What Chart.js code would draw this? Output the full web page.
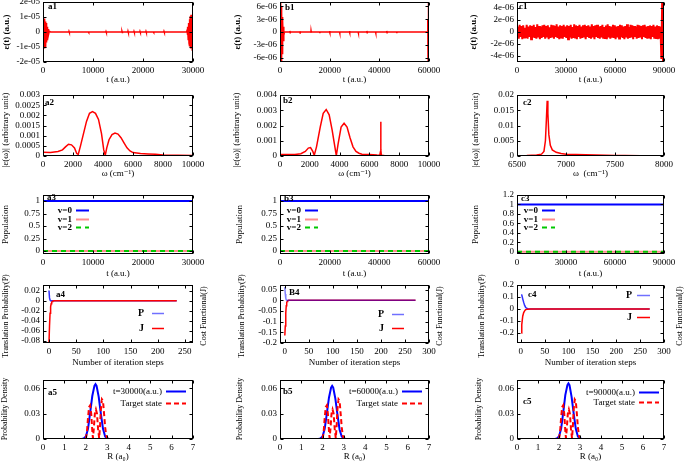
<!DOCTYPE html>
<html><head><meta charset="utf-8">
<script src="https://cdn.jsdelivr.net/npm/chart.js@4.4.0/dist/chart.umd.min.js"></script>
<style>
html,body{margin:0;padding:0;background:#fff;width:685px;height:470px;overflow:hidden;position:relative}
canvas{position:absolute}
</style>
</head><body>
<script>
// ---------------- DATA ----------------
// Row 1: control field eps(t)
const a1Time  = [0,120,200,260,320,380,440,500,560,620,680,740,800,870,940,1020,1120,1250,1500,
  5170,5200,5260,5290, 9070,9100,9160,9190, 12570,12600,12660,12690, 15770,15800,15860,15890, 16970,17000,17060,17090,
  18170,18200,18260,18290, 19370,19400,19460,19490, 20570,20600,20660,20690, 22070,22100,22160,22190, 24170,24200,24260,24290,
  28700,28800,28880,28960,29040,29120,29200,29280,29360,29440,29520,29600,29680,29760,29840,29920,30000];
const a1Field = [0,0.3e-5,-0.6e-5,0.9e-5,-1.1e-5,0.85e-5,-1.0e-5,0.7e-5,-0.9e-5,0.6e-5,-0.7e-5,0.5e-5,-0.5e-5,0.35e-5,-0.3e-5,0.2e-5,-0.15e-5,0.05e-5,0,
  0,0.04e-5,-0.03e-5,0, 0,0.04e-5,-0.04e-5,0, 0,0.03e-5,-0.04e-5,0, 0,0.04e-5,-0.03e-5,0, 0,0.05e-5,-0.04e-5,0,
  0,0.04e-5,-0.04e-5,0, 0,0.04e-5,-0.03e-5,0, 0,0.04e-5,-0.04e-5,0, 0,0.03e-5,-0.04e-5,0, 0,0.04e-5,-0.03e-5,0,
  0,0.1e-5,-0.2e-5,0.35e-5,-0.5e-5,0.6e-5,-0.75e-5,0.85e-5,-0.95e-5,1.05e-5,-1.1e-5,1.15e-5,-1.05e-5,1.1e-5,-1.2e-5,1.0e-5,-0.6e-5];

const b1Time  = [0,150,250,350,450,550,650,750,850,950,1050,1150,1300,1450,1600,1800,
  3970,4000,4100,4130, 7970,8000,8100,8130, 12470,12500,12600,12630, 15970,16000,16100,16130, 19970,20000,20100,20130,
  23970,24000,24100,24130, 27970,28000,28100,28130, 31470,31500,31600,31630, 34970,35000,35100,35130, 38470,38500,38600,38630,
  42970,43000,43100,43130, 46970,47000,47100,47130,
  59400,59500,59600,59700,59800,59900,60000];
const b1Field = [0,5e-6,-7.5e-6,8e-6,-7.5e-6,6e-6,-6e-6,4.5e-6,-5e-6,3.5e-6,-3e-6,2.5e-6,-2e-6,1.2e-6,-0.8e-6,0,
  0,0.25e-6,-0.2e-6,0, 0,0.2e-6,-0.25e-6,0, 0,0.25e-6,-0.2e-6,0, 0,0.2e-6,-0.25e-6,0, 0,0.25e-6,-0.2e-6,0,
  0,0.2e-6,-0.25e-6,0, 0,0.25e-6,-0.2e-6,0, 0,0.2e-6,-0.25e-6,0, 0,0.25e-6,-0.2e-6,0, 0,0.2e-6,-0.25e-6,0,
  0,0.25e-6,-0.2e-6,0, 0,0.2e-6,-0.25e-6,0,
  0,3e-6,-6e-6,8e-6,-8e-6,7e-6,-5e-6];

// c1: densely sampled field, values in units of 1e-7 a.u., equally spaced over 0..90000 a.u.
const c1Duration = 90000;
const c1FieldE7 = [0,9,-11,12,-8,10,-12,11,-9,7,-10,12,-11,9,-8,11,-12,10,-9,12,
 -10,8,-11,13,-9,10,-12,9,-10,11,-8,12,-11,10,-9,11,-12,8,-10,12,
 -9,11,-11,10,-8,13,-10,9,-12,11,-9,10,-11,12,-8,9,-10,11,-12,10,
 -9,12,-11,8,-10,13,-9,11,-12,10,-8,12,-11,9,-10,11,-9,12,-12,10,
 -8,11,-10,9,-11,13,-9,10,-12,11,-8,12,-10,9,-11,10,-9,12,-11,8,
 -10,11,-12,13,-9,10,-11,9,-8,12,-10,11,-12,9,-9,10,-11,12,-8,11,
 -10,9,-12,10,-9,13,-11,8,-10,12,-9,11,-12,10,-8,9,-11,12,-10,11,
 -9,10,-12,11,-8,12,-10,9,-11,10,-9,11,-12,10,-8,12,-11,9,-10,11,
 -12,10,-11,9,-45,60,-60,55];

// Row 2: spectra |eps(omega)|
const a2Omega = [0,500,1000,1300,1500,1700,1900,2100,2250,2350,2500,2700,2900,3100,3300,3500,3700,3900,4050,4150,4250,4400,4600,4800,5000,5200,5400,5600,5800,6000,6500,7000,7500,8000,9000,10000];
const a2Amp   = [0.00018,0.00017,0.00022,0.0003,0.00045,0.00058,0.00055,0.0004,0.00012,0.00008,0.0005,0.0011,0.0017,0.0021,0.00218,0.0021,0.0018,0.0011,0.0003,0.00003,0.0004,0.0008,0.00105,0.00113,0.00108,0.0009,0.00065,0.0004,0.00025,0.00017,0.00012,0.0001,0.00008,0.00005,0.00004,0.00003];
const b2Omega = [0,500,1000,1400,1700,1900,2050,2200,2300,2450,2700,2900,3100,3300,3500,3650,3780,3900,4100,4300,4500,4700,4900,5100,5300,5500,6000,6500,6700,6745,6760,6775,6800,6850,7000,8000,9000,10000];
const b2Amp   = [0.0001,0.0001,0.0001,0.00015,0.0003,0.00052,0.00055,0.0003,0.00005,0.0006,0.0019,0.0028,0.00305,0.0027,0.0017,0.0008,0.00002,0.0008,0.0019,0.00215,0.0019,0.0012,0.0006,0.0003,0.00018,0.00012,0.0001,0.00006,0.00005,0.0003,0.00225,0.0004,0.00008,0.00004,0.00003,0.00002,0.00002,0.00002];
const c2Omega = [6500,6600,6700,6750,6775,6790,6800,6808,6815,6825,6840,6860,6900,6950,7000,7100,7200,7300,7400,7500,7600,7760];
const c2Amp   = [0.0001,0.00015,0.0003,0.0006,0.0015,0.005,0.012,0.0181,0.014,0.007,0.0035,0.002,0.0012,0.0008,0.0006,0.0005,0.0004,0.0003,0.00025,0.0002,0.00015,0.0001];

// Row 3: populations
const a3Time = [0,30000], b3Time = [0,60000], c3Time = [0,90000];
const popV0 = [1,1], popV1 = [0,0], popV2 = [0,0];

// Row 4: convergence (P and J vs iteration)
const a4Step = [0,1,2,3,4,5,6,7,8,10,235];
const a4P    = [0.021,0.006,0.0015,0.0005,0.0002,0.0001,0,0,0,0,0];
const a4J    = [-0.085,-0.05,-0.025,-0.012,-0.006,-0.003,-0.0015,-0.0008,-0.0003,0,0];
const b4Step = [0,1,2,3,4,5,6,8,10,272];
const b4P    = [0.062,0.03,0.01,0.003,0.001,0,0,0,0,0];
const b4J    = [-0.165,-0.12,-0.06,-0.025,-0.01,-0.005,-0.002,0,0,0];
const c4Step = [1,2,4,6,8,10,12,15,20,270];
const c4P    = [0.12,0.117,0.085,0.055,0.03,0.015,0.007,0.002,0,0];
const c4J    = [-0.2,-0.13,-0.06,-0.03,-0.015,-0.006,-0.003,-0.001,0,0];

// Row 5: probability densities
const finalR  = [0.5,1.8,1.9,2.0,2.1,2.2,2.3,2.4,2.45,2.5,2.6,2.7,2.8,2.9,3.0,3.1,6.5];
const a5Final = [0,0,0.0005,0.003,0.012,0.031,0.051,0.063,0.065,0.063,0.05,0.03,0.012,0.003,0.0005,0,0];
const b5Final = [0,0,0.0005,0.003,0.012,0.03,0.049,0.061,0.063,0.061,0.048,0.029,0.011,0.003,0.0005,0,0];
const c5Final = [0,0,0.0005,0.003,0.012,0.031,0.052,0.064,0.066,0.064,0.05,0.03,0.012,0.003,0.0005,0,0];
const targetR = [2.0,2.05,2.1,2.15,2.2,2.25,2.3,2.33,2.37,2.42,2.47,2.52,2.57,2.62,2.66,2.7,2.75,2.8,2.85,2.9,2.95,3.0,3.05];
const targetD = [0,0.008,0.025,0.038,0.04,0.03,0.01,0.001,0.012,0.03,0.035,0.03,0.012,0.001,0.015,0.035,0.047,0.045,0.03,0.014,0.004,0.001,0];

// Tick values and labels
const t30Ticks = [0,10000,20000,30000], t30Labels = ['0','10000','20000','30000'];
const t60Ticks = [0,20000,40000,60000], t60Labels = ['0','20000','40000','60000'];
const t90Ticks = [0,30000,60000,90000], t90Labels = ['0','30000','60000','90000'];
const a1YTicks = [-2e-5,-1e-5,0,1e-5,2e-5], a1YLabels = ['-2e-05','-1e-05','0','1e-05','2e-05'];
const b1YTicks = [-6e-6,-3e-6,0,3e-6,6e-6], b1YLabels = ['-6e-06','-3e-06','0','3e-06','6e-06'];
const c1YTicks = [-4e-6,-2e-6,0,2e-6,4e-6], c1YLabels = ['-4e-06','-2e-06','0','2e-06','4e-06'];
const wTicks = [0,2000,4000,6000,8000,10000], wLabels = ['0','2000','4000','6000','8000','10000'];
const c2XTicks = [6500,7000,7500,8000], c2XLabels = ['6500','7000','7500','8000'];
const a2YTicks = [0,0.0005,0.001,0.0015,0.002,0.0025,0.003], a2YLabels = ['0','0.0005','0.001','0.0015','0.002','0.0025','0.003'];
const b2YTicks = [0,0.001,0.002,0.003,0.004], b2YLabels = ['0','0.001','0.002','0.003','0.004'];
const c2YTicks = [0,0.005,0.01,0.015,0.02], c2YLabels = ['0','0.005','0.01','0.015','0.02'];
const popTicks = [0,0.25,0.5,0.75,1], popLabels = ['0','0.25','0.5','0.75','1'];
const c3Ticks = [0,0.2,0.4,0.6,0.8,1,1.2], c3Labels = ['0','0.2','0.4','0.6','0.8','1','1.2'];
const a4XTicks = [0,50,100,150,200,250], a4XLabels = ['0','50','100','150','200','250'];
const s300Ticks = [0,50,100,150,200,250,300], s300Labels = ['0','50','100','150','200','250','300'];
const a4YTicks = [-0.08,-0.06,-0.04,-0.02,0,0.02], a4YLabels = ['-0.08','-0.06','-0.04','-0.02','0','0.02'];
const b4YTicks = [-0.2,-0.15,-0.1,-0.05,0,0.05], b4YLabels = ['-0.2','-0.15','-0.1','-0.05','0','0.05'];
const c4YTicks = [-0.2,-0.1,0,0.1,0.2], c4YLabels = ['-0.2','-0.1','0','0.1','0.2'];
const rTicks = [0,1,2,3,4,5,6,7], rLabels = ['0','1','2','3','4','5','6','7'];
const dTicks = [0,0.03,0.06], dLabels = ['0','0.03','0.06'];

// ---------------- RENDERING ----------------
const SERIF = '"Liberation Serif", "DejaVu Serif", serif';
Chart.defaults.font.family = SERIF;
Chart.defaults.font.size = 9;
Chart.defaults.color = '#000';

const COL = {a:{l:43,r:193}, b:{l:280,r:429}, c:{l:517,r:664}};
const ROW = [{t:2,b:62,xt:80},{t:95,b:156,xt:174},{t:195,b:254,xt:274},{t:285,b:343,xt:363},{t:380,b:439,xt:457}];
const PAD_T = 14, PAD_B = 12, PAD_R = 22;

const gnuFrame = {
  id:'gnuFrame',
  afterDraw(chart, args, o) {
    const {ctx, chartArea:a, scales} = chart;
    ctx.save();
    ctx.strokeStyle = '#000'; ctx.lineWidth = 1; ctx.setLineDash([]);
    const L = Math.round(a.left)+0.5, R = Math.round(a.right)-0.5, T = Math.round(a.top)+0.5, B = Math.round(a.bottom)-0.5;
    ctx.strokeRect(L, T, R-L, B-T);
    const tl = 3;
    ctx.beginPath();
    scales.x.ticks.forEach(t => { const p = Math.round(scales.x.getPixelForValue(t.value))+0.5;
      ctx.moveTo(p,B); ctx.lineTo(p,B-tl); ctx.moveTo(p,T); ctx.lineTo(p,T+tl); });
    scales.y.ticks.forEach(t => { const p = Math.round(scales.y.getPixelForValue(t.value))+0.5;
      ctx.moveTo(L,p); ctx.lineTo(L+tl,p); ctx.moveTo(R,p); ctx.lineTo(R-tl,p); });
    ctx.stroke();
    ctx.fillStyle = '#000'; ctx.textBaseline = 'middle'; ctx.textAlign = 'center';
    (o.vTitles || []).forEach(vt => {
      ctx.save();
      ctx.font = vt.font;
      ctx.translate(vt.x, vt.y); ctx.rotate(-Math.PI/2);
      ctx.fillText(vt.text, 0, 0);
      ctx.restore();
    });
    ctx.textAlign = 'left';
    ctx.font = 'bold 9px ' + SERIF;
    ctx.fillText(o.label, a.left + o.labelAt[0], a.top + o.labelAt[1]);
    if (o.legend) {
      const lg = o.legend;
      lg.items.forEach((di, k) => {
        const ds = chart.data.datasets[di];
        const y = Math.round(a.top + lg.y + k*lg.dy) + 0.5;
        ctx.font = lg.font; ctx.fillStyle = '#000'; ctx.textAlign = 'right';
        ctx.fillText(ds.label, a.left + lg.x, y);
        ctx.strokeStyle = ds.legendColor || ds.borderColor; ctx.lineWidth = ds.borderWidth;
        ctx.setLineDash(ds.borderDash || []);
        ctx.beginPath(); ctx.moveTo(a.left+lg.x+lg.gap, y); ctx.lineTo(a.left+lg.x+lg.gap+lg.len, y); ctx.stroke();
        ctx.setLineDash([]);
      });
    }
    ctx.restore();
  }
};

function line(xs, ys, label, color, width, extra) {
  return Object.assign({label, data: xs.map((x,i)=>({x, y: ys[i]})), borderColor: color, backgroundColor: color,
    borderWidth: width, pointRadius: 0, tension: 0, fill: false}, extra || {});
}

function makePanel(p) {
  const LH = 9*1.2;
  const box = {l:COL[p.col].l, r:COL[p.col].r, t:ROW[p.row].t, b:ROW[p.row].b};
  const xTitleY = ROW[p.row].xt;
  const cl = Math.round(p.yTitleX - LH/2) - 2;
  const ct = box.t - PAD_T;
  const cr = p.rTitleX ? Math.round(p.rTitleX + LH/2) + 2 : box.r + PAD_R;
  const cb = Math.round(xTitleY + LH/2) + PAD_B;
  const w = cr - cl, h = cb - ct;
  const cv = document.createElement('canvas');
  cv.width = w; cv.height = h;
  cv.style.left = cl+'px'; cv.style.top = ct+'px'; cv.style.width = w+'px'; cv.style.height = h+'px';
  document.body.appendChild(cv);
  const axis = (ax, pos, fit, showTitle) => ({
    type:'linear', position:pos, min:ax.min, max:ax.max, bounds:'data',
    afterBuildTicks: s => { s.ticks = ax.ticks.map(v => ({value:v})); },
    afterFit: fit,
    ticks: {autoSkip:false, maxRotation:0, minRotation:0, padding:3, callback:(v,i) => ax.labels[i]},
    grid: {display:false, drawTicks:false},
    border: {display:false},
    title: {display:showTitle, text:ax.title, padding:0, font:{size:9, family:SERIF, lineHeight:1.2}}
  });
  const scales = {
    x: axis(p.x, 'bottom', s => { s.height = cb - PAD_B - box.b; }, true),
    y: axis(p.y, 'left', s => { s.width = box.l - cl; }, false)
  };
  const tsize = p.titleSize || 9;
  const vTitles = [{text:p.y.title, x:p.yTitleX - cl, y:(p.yTitleY || (box.t+box.b)/2) - ct,
                    font:(p.y.bold ? 'bold ' : '') + tsize + 'px ' + SERIF}];
  if (p.rTitleX) {
    scales.y2 = {type:'linear', position:'right', min:p.y.min, max:p.y.max, bounds:'data',
      afterFit: s => { s.width = cr - box.r; },
      ticks:{display:false}, grid:{display:false, drawTicks:false}, border:{display:false},
      title:{display:false}};
    vTitles.push({text:p.rTitle, x:p.rTitleX - cl, y:p.rTitleY - ct, font:tsize + 'px ' + SERIF});
  }
  new Chart(cv, {
    type:'line',
    data:{datasets:p.datasets},
    options:{
      responsive:false, animation:false, devicePixelRatio:1, events:[],
      layout:{autoPadding:false, padding:{left:0, top:PAD_T, right: p.rTitleX ? 0 : PAD_R, bottom:PAD_B}},
      scales,
      plugins:{legend:{display:false}, tooltip:{enabled:false},
        gnuFrame:{label:p.label, labelAt:p.labelAt, legend:p.legend, vTitles}}
    },
    plugins:[gnuFrame]
  });
}

const RED = '#ff0000', BLUE = '#0000ff';
const c1Time = c1FieldE7.map((v,i) => i * c1Duration / (c1FieldE7.length - 1));
const c1Field = c1FieldE7.map(v => v * 1e-7);

const popSets = (tt) => [
  line(tt, popV0, 'v=0', BLUE, 2, {order:0}),
  line(tt, popV1, 'v=1', '#ff8c8c', 2, {order:2}),
  line(tt, popV2, 'v=2', '#00c800', 2, {order:1, borderDash:[5,4]})
];
const popLegendA = {items:[0,1,2], x:29, gap:4, len:13, y:15, dy:8.5, font:'bold 9px '+SERIF};
const popLegendBC = {items:[0,1,2], x:21, gap:4, len:13, y:15, dy:8.5, font:'bold 9px '+SERIF};
const densSets = (fin, lab) => [
  line(targetR, targetD, 'Target state', RED, 2, {order:0, borderDash:[5,3]}),
  line(finalR, fin, lab, BLUE, 2, {order:1})
];

const panels = [
  // Row 1
  {label:'a1', labelAt:[5,5], col:'a', row:0, yTitleX:7,
   x:{min:0,max:30000,ticks:t30Ticks,labels:t30Labels,title:'t (a.u.)'},
   y:{min:-2e-5,max:2e-5,ticks:a1YTicks,labels:a1YLabels,title:'ε(t) (a.u.)',bold:true},
   datasets:[line(a1Time,a1Field,'a1',RED,1.5)]},
  {label:'b1', labelAt:[5,6], col:'b', row:0, yTitleX:238,
   x:{min:0,max:60000,ticks:t60Ticks,labels:t60Labels,title:'t (a.u.)'},
   y:{min:-7e-6,max:7e-6,ticks:b1YTicks,labels:b1YLabels,title:'ε(t) (a.u.)',bold:true},
   datasets:[line(b1Time,b1Field,'b1',RED,1.5)]},
  {label:'c1', labelAt:[2,5], col:'c', row:0, yTitleX:474,
   x:{min:0,max:90000,ticks:t90Ticks,labels:t90Labels,title:'t (a.u.)'},
   y:{min:-5e-6,max:5e-6,ticks:c1YTicks,labels:c1YLabels,title:'ε(t) (a.u.)',bold:true},
   datasets:[line(c1Time,c1Field,'c1',RED,2)]},
  // Row 2
  {label:'a2', labelAt:[2,8], col:'a', row:1, yTitleX:6, yTitleY:130,
   x:{min:0,max:10000,ticks:wTicks,labels:wLabels,title:'ω (cm⁻¹)'},
   y:{min:0,max:0.003,ticks:a2YTicks,labels:a2YLabels,title:'|ε(ω)| (arbitrary unit)'},
   datasets:[line(a2Omega,a2Amp,'a2',RED,1.5)]},
  {label:'b2', labelAt:[3,6], col:'b', row:1, yTitleX:237, yTitleY:130,
   x:{min:0,max:10000,ticks:wTicks,labels:wLabels,title:'ω (cm⁻¹)'},
   y:{min:0,max:0.004,ticks:b2YTicks,labels:b2YLabels,title:'|ε(ω)| (arbitrary unit)'},
   datasets:[line(b2Omega,b2Amp,'b2',RED,1.5)]},
  {label:'c2', labelAt:[6,8], col:'c', row:1, yTitleX:476, yTitleY:130,
   x:{min:6500,max:8000,ticks:c2XTicks,labels:c2XLabels,title:'ω  (cm⁻¹)'},
   y:{min:0,max:0.02,ticks:c2YTicks,labels:c2YLabels,title:'|ε(ω)| (arbitrary unit)'},
   datasets:[line(c2Omega,c2Amp,'c2',RED,1.5)]},
  // Row 3
  {label:'a3', labelAt:[4,3], col:'a', row:2, yTitleX:6,
   x:{min:0,max:30000,ticks:t30Ticks,labels:t30Labels,title:'t (a.u.)'},
   y:{min:-0.06,max:1.12,ticks:popTicks,labels:popLabels,title:'Population'},
   datasets:popSets(a3Time), legend:popLegendA},
  {label:'b3', labelAt:[4,4], col:'b', row:2, yTitleX:240,
   x:{min:0,max:60000,ticks:t60Ticks,labels:t60Labels,title:'t (a.u.)'},
   y:{min:-0.06,max:1.12,ticks:popTicks,labels:popLabels,title:'Population'},
   datasets:popSets(b3Time), legend:popLegendBC},
  {label:'c3', labelAt:[4,4], col:'c', row:2, yTitleX:476,
   x:{min:0,max:90000,ticks:t90Ticks,labels:t90Labels,title:'t (a.u.)'},
   y:{min:-0.05,max:1.2,ticks:c3Ticks,labels:c3Labels,title:'Population'},
   datasets:popSets(c3Time), legend:popLegendBC},
  // Row 4
  {label:'a4', labelAt:[13,10], col:'a', row:3, yTitleX:6, yTitleY:316, titleSize:8, rTitleX:204, rTitleY:316, rTitle:'Cost Functional(J)',
   x:{min:-11,max:265,ticks:a4XTicks,labels:a4XLabels,title:'Number of iteration steps'},
   y:{min:-0.085,max:0.032,ticks:a4YTicks,labels:a4YLabels,title:'Translation Probability(P)'},
   datasets:[line(a4Step,a4P,'P','#3030ff',1.5,{order:1, legendColor:'#7070ff'}), line(a4Step,a4J,'J',RED,1.5,{order:0})],
   legend:{items:[0,1], x:101, gap:8, len:12, y:28, dy:15, font:'bold 10px '+SERIF}},
  {label:'B4', labelAt:[9,8], col:'b', row:3, yTitleX:242, yTitleY:316, titleSize:8, rTitleX:440, rTitleY:316, rTitle:'Cost Functional(J)',
   x:{min:-10,max:300,ticks:s300Ticks,labels:s300Labels,title:'Number of iteration steps'},
   y:{min:-0.2,max:0.072,ticks:b4YTicks,labels:b4YLabels,title:'Translation Probability(P)'},
   datasets:[line(b4Step,b4P,'P','rgba(0,0,255,0.5)',1.5,{order:0, legendColor:'#7070ff'}), line(b4Step,b4J,'J',RED,1.5,{order:1})],
   legend:{items:[0,1], x:104, gap:8, len:12, y:29, dy:14, font:'bold 10px '+SERIF}},
  {label:'c4', labelAt:[11,10], col:'c', row:3, yTitleX:482, yTitleY:316, titleSize:8, rTitleX:680, rTitleY:316, rTitle:'Cost Functional(J)',
   x:{min:-8,max:300,ticks:s300Ticks,labels:s300Labels,title:'Number of iteration steps'},
   y:{min:-0.283,max:0.2,ticks:c4YTicks,labels:c4YLabels,title:'Translation Probability(P)'},
   datasets:[line(c4Step,c4P,'P','#3030ff',1.5,{order:1, legendColor:'#7070ff'}), line(c4Step,c4J,'J',RED,1.5,{order:0})],
   legend:{items:[0,1], x:115, gap:5, len:13, y:10, dy:22, font:'bold 10px '+SERIF}},
  // Row 5
  {label:'a5', labelAt:[5,13], col:'a', row:4, yTitleX:5, yTitleY:409, titleSize:8,
   x:{min:0,max:7,ticks:rTicks,labels:rLabels,title:'R (a₀)'},
   y:{min:0,max:0.07,ticks:dTicks,labels:dLabels,title:'Probability Density'},
   datasets:densSets(a5Final,'t=30000(a.u.)'),
   legend:{items:[1,0], x:119, gap:4, len:20, y:11, dy:12, font:'9px '+SERIF}},
  {label:'b5', labelAt:[3,12], col:'b', row:4, yTitleX:240, yTitleY:409, titleSize:8,
   x:{min:0,max:7,ticks:rTicks,labels:rLabels,title:'R (a₀)'},
   y:{min:0,max:0.07,ticks:dTicks,labels:dLabels,title:'Probability Density'},
   datasets:densSets(b5Final,'t=60000(a.u.)'),
   legend:{items:[1,0], x:118, gap:4, len:20, y:11, dy:12, font:'9px '+SERIF}},
  {label:'c5', labelAt:[6,22], col:'c', row:4, yTitleX:479, yTitleY:409, titleSize:8,
   x:{min:0,max:7,ticks:rTicks,labels:rLabels,title:'R (a₀)'},
   y:{min:0,max:0.07,ticks:dTicks,labels:dLabels,title:'Probability Density'},
   datasets:densSets(c5Final,'t=90000(a.u.)'),
   legend:{items:[1,0], x:118, gap:4, len:20, y:12, dy:10, font:'9px '+SERIF}}
];
panels.forEach(makePanel);
</script>
</body></html>
